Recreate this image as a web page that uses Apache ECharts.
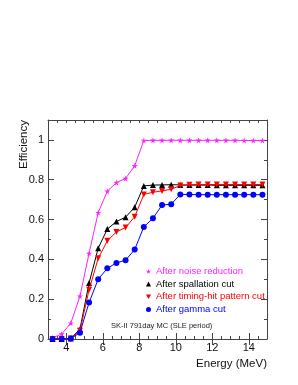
<!DOCTYPE html>
<html>
<head>
<meta charset="utf-8">
<script src="https://cdn.jsdelivr.net/npm/echarts@6/dist/echarts.min.js"></script>
<style>
html,body{margin:0;padding:0;background:#fff;}
#chart{width:298px;height:385px;}
</style>
</head>
<body>
<div id="chart"></div>
<script>
const energy = [3.25, 3.75, 4.25, 4.75, 5.25, 5.75, 6.25, 6.75, 7.25, 7.75, 8.25, 8.75,
                9.25, 9.75, 10.25, 10.75, 11.25, 11.75, 12.25, 12.75, 13.25, 13.75, 14.25, 14.75];
const noiseReduction = [0.006, 0.025, 0.08, 0.215, 0.43, 0.635, 0.742, 0.786, 0.806, 0.87, 0.997, 0.998,
                        0.998, 0.998, 0.998, 0.998, 0.998, 0.998, 0.998, 0.998, 0.998, 0.997, 0.997, 0.997];
const spallationCut = [0, 0, 0.003, 0.049, 0.281, 0.456, 0.552, 0.59, 0.612, 0.662, 0.769, 0.773,
                       0.774, 0.775, 0.774, 0.773, 0.773, 0.773, 0.772, 0.772, 0.772, 0.772, 0.772, 0.772];
const timingHitCut = [0, 0, 0.002, 0.042, 0.247, 0.405, 0.493, 0.538, 0.56, 0.614, 0.726, 0.737,
                      0.744, 0.752, 0.771, 0.775, 0.776, 0.776, 0.776, 0.776, 0.776, 0.776, 0.776, 0.776];
const gammaCut = [0, 0, 0.002, 0.032, 0.183, 0.3, 0.355, 0.382, 0.396, 0.449, 0.563, 0.606,
                  0.673, 0.677, 0.726, 0.726, 0.725, 0.725, 0.725, 0.725, 0.725, 0.725, 0.725, 0.725];
const xMajorTicks = [4, 6, 8, 10, 12, 14];
const yMajorTicks = [0, 0.2, 0.4, 0.6, 0.8, 1.0];
const seriesNames = ['After noise reduction', 'After spallation cut', 'After timing-hit pattern cut', 'After gamma cut'];
const seriesColors = ['#ff22ff', '#000000', '#ff0000', '#0000ff'];

const STAR = 'path://M50,0 L61,35 L98,35 L68,57 L79,91 L50,70 L21,91 L32,57 L2,35 L39,35 Z';
const DOWN_TRI = 'path://M0,0 L10,0 L5,9 Z';
const symbols = [STAR, 'triangle', DOWN_TRI, 'circle'];
const symbolSizes = [6, 6, 6, 6];
const seriesData = [noiseReduction, spallationCut, timingHitCut, gammaCut];

const frameColor = '#444';
function minorAxis(pos, isX, showLabels) {
  const a = {
    type: 'value', position: pos,
    min: isX ? 3 : 0, max: isX ? 15 : 1.1, interval: isX ? 0.5 : 0.1,
    axisLine: {show: true, onZero: false, lineStyle: {color: frameColor, width: 1}},
    axisTick: {show: true, inside: true, length: 3, lineStyle: {color: frameColor, width: 1}},
    splitLine: {show: false},
    axisLabel: {show: false}
  };
  if (showLabels) {
    a.axisLabel = isX ? {
      show: true, fontSize: 11, color: '#111', margin: 3, fontFamily: 'Liberation Sans, Arial, sans-serif',
      formatter: v => (Math.abs(v % 2) < 1e-9 ? String(v) : '')
    } : {
      show: true, fontSize: 11, color: '#111', margin: 4, fontFamily: 'Liberation Sans, Arial, sans-serif',
      formatter: v => { const r = Math.round(v * 10); return (r % 2 === 0 && r <= 10) ? String(r / 10) : ''; }
    };
  }
  return a;
}
function majorAxis(pos, isX) {
  return {
    type: 'value', position: pos,
    min: isX ? 3 : 0, max: isX ? 15 : 1.1, interval: isX ? 1 : 0.1,
    axisLine: {show: false},
    axisTick: {show: true, inside: true, length: 6, customValues: isX ? xMajorTicks : yMajorTicks,
               lineStyle: {color: frameColor, width: 1}},
    splitLine: {show: false},
    axisLabel: {show: false}
  };
}

const xBottom = minorAxis('bottom', true, true);
xBottom.name = 'Energy (MeV)';
xBottom.nameLocation = 'end';
xBottom.nameGap = 0;
xBottom.nameTextStyle = {fontSize: 11.5, color: '#111', align: 'right', verticalAlign: 'top',
                         padding: [19, 0, 0, 0], fontFamily: 'Liberation Sans, Arial, sans-serif'};
const yLeft = minorAxis('left', false, true);
yLeft.name = 'Efficiency';
yLeft.nameLocation = 'end';
yLeft.nameRotate = 90;
yLeft.nameGap = 0;
yLeft.nameTextStyle = {fontSize: 11.5, color: '#111', align: 'right', verticalAlign: 'bottom',
                       padding: [0, 0, 18, 0], fontFamily: 'Liberation Sans, Arial, sans-serif'};

const option = {
  backgroundColor: '#fff',
  animation: false,
  grid: {left: 48, right: 31, top: 120, bottom: 46, containLabel: false},
  title: {
    text: 'SK-II 791day MC (SLE period)', left: 111, top: 322, padding: 0,
    textStyle: {fontSize: 7.5, fontWeight: 'normal', color: '#222', fontFamily: 'Liberation Sans, Arial, sans-serif'}
  },
  legend: {
    orient: 'vertical', left: 146, top: 265, padding: 0, itemGap: 0,
    itemWidth: 5, itemHeight: 5,
    textStyle: {fontSize: 9.5, lineHeight: 12.7, fontFamily: 'Liberation Sans, Arial, sans-serif'},
    data: seriesNames.map((n, i) => ({name: n, icon: symbols[i], textStyle: {color: seriesColors[i]}}))
  },
  xAxis: [xBottom, majorAxis('bottom', true), minorAxis('top', true, false), majorAxis('top', true)],
  yAxis: [yLeft, majorAxis('left', false), minorAxis('right', false, false), majorAxis('right', false)],
  series: seriesNames.map((n, i) => ({
    name: n, type: 'line', xAxisIndex: 0, yAxisIndex: 0,
    data: energy.map((e, k) => [e, seriesData[i][k]]),
    symbol: symbols[i], symbolSize: symbolSizes[i],
    lineStyle: {color: seriesColors[i], width: 1},
    itemStyle: {color: seriesColors[i]},
    z: 2 + i
  }))
};
const chart = echarts.init(document.getElementById('chart'), null, {renderer: 'canvas'});
chart.setOption(option);
</script>
</body>
</html>
